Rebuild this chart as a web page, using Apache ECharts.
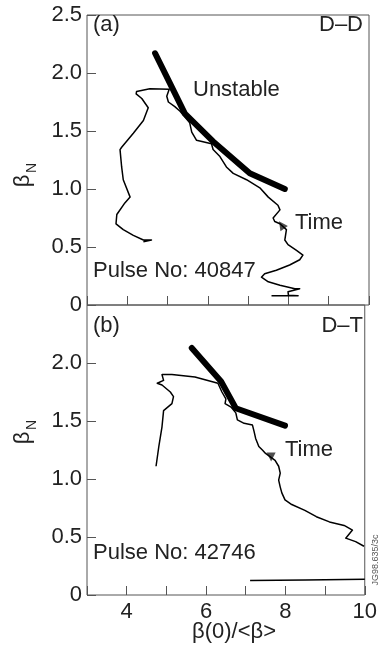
<!DOCTYPE html>
<html>
<head>
<meta charset="utf-8">
<style>
  html, body { margin: 0; padding: 0; background: #fff; }
  #chart { width: 380px; height: 646px; }
</style>
<script src="https://cdn.jsdelivr.net/npm/echarts/dist/echarts.min.js"></script>
</head>
<body>
<div id="chart"></div>
<script>
// Peaking factor beta(0)/<beta> against normalised beta, two JET pulses

// (a) D–D, pulse 40847: measured trajectory
const trajA = [
  [7.58, 0.08], [8.24, 0.08], [8.00, 0.085], [7.99, 0.115], [8.28, 0.14], [8.16, 0.14],
  [7.79, 0.17], [7.50, 0.20], [7.33, 0.24], [7.41, 0.27], [7.70, 0.30], [8.03, 0.345],
  [8.28, 0.39], [8.36, 0.43], [8.20, 0.47], [7.99, 0.52], [7.91, 0.56], [7.95, 0.65],
  [7.79, 0.70], [7.66, 0.72], [7.62, 0.75], [7.79, 0.82], [7.74, 0.86], [7.50, 0.93],
  [7.29, 1.01], [6.96, 1.08], [6.63, 1.135], [6.46, 1.19], [6.30, 1.28], [6.13, 1.34],
  [6.09, 1.39], [5.72, 1.42], [5.60, 1.49], [5.55, 1.57], [5.31, 1.67], [5.18, 1.71],
  [5.02, 1.75], [4.98, 1.80], [5.04, 1.86], [4.56, 1.865], [4.23, 1.84], [4.22, 1.82],
  [4.36, 1.78], [4.52, 1.70], [4.40, 1.59], [4.15, 1.48], [3.86, 1.36], [3.82, 1.34],
  [3.86, 1.19], [3.90, 1.08], [4.07, 0.93], [3.94, 0.88], [3.74, 0.78], [3.72, 0.70],
  [3.90, 0.65], [4.15, 0.60], [4.40, 0.56], [4.60, 0.56], [4.40, 0.545]
];
// (a) stability limit
const limitA = [[4.69, 2.17], [5.06, 1.91], [5.43, 1.65], [6.13, 1.41], [7.04, 1.135], [7.91, 1.00]];
// (a) time-direction arrow
const arrowA = [[7.83, 0.69]];

// (b) D–T, pulse 42746: measured trajectory
const trajB = [
  [4.74, 1.11], [4.81, 1.28], [4.89, 1.45], [4.93, 1.59], [5.14, 1.65], [5.18, 1.71],
  [5.10, 1.75], [4.89, 1.81], [4.77, 1.825], [4.93, 1.85], [4.89, 1.90], [5.14, 1.90],
  [5.72, 1.88], [6.30, 1.825], [6.40, 1.75], [6.50, 1.69], [6.48, 1.65], [6.63, 1.62],
  [6.75, 1.57], [6.79, 1.51], [6.96, 1.48], [7.17, 1.465], [7.21, 1.41], [7.25, 1.35],
  [7.33, 1.28], [7.42, 1.25], [7.50, 1.22], [7.54, 1.22], [7.74, 1.16], [7.83, 1.11],
  [7.87, 1.05], [7.83, 0.99], [7.87, 0.93], [7.91, 0.88], [7.99, 0.82], [8.16, 0.78],
  [8.49, 0.73], [8.78, 0.675], [9.11, 0.63], [9.48, 0.60], [9.69, 0.56], [9.52, 0.49],
  [9.77, 0.46], [9.98, 0.42]
];
// (b) low-beta phase along the bottom
const baseB = [[7.11, 0.125], [8.5, 0.13], [10.0, 0.135]];
// (b) stability limit
const limitB = [[5.64, 2.13], [6.38, 1.84], [6.75, 1.61], [7.99, 1.46]];
// (b) time-direction arrow
const arrowB = [[7.64, 1.19]];

const xTicks = { min: 3, max: 10, interval: 1 };
const yTicks = { min: 0, max: 2.5, interval: 0.5 };
const xLabelValues = [4, 6, 8, 10];

const FONT = 'Liberation Sans, Arial, Helvetica, sans-serif';
const INK = '#222';
const FRAME = '#555';
const FS = 22;

const chart = echarts.init(document.getElementById('chart'));

function xAxis(gridIndex, showLabels) {
  return {
    type: 'value', gridIndex, min: xTicks.min, max: xTicks.max, interval: xTicks.interval,
    axisLine: { show: false },
    axisTick: { show: true, inside: true, length: 9, lineStyle: { color: FRAME, width: 1 } },
    axisLabel: {
      show: showLabels, margin: 6, color: INK, fontSize: FS, fontFamily: FONT,
      formatter: v => xLabelValues.includes(v) ? String(v) : ''
    },
    splitLine: { show: false }
  };
}
function yAxis(gridIndex, hideTop) {
  return {
    type: 'value', gridIndex, min: yTicks.min, max: yTicks.max, interval: yTicks.interval,
    axisLine: { show: false },
    axisTick: { show: true, inside: true, length: 9, lineStyle: { color: FRAME, width: 1 } },
    axisLabel: {
      margin: 5, color: INK, fontSize: FS, fontFamily: FONT,
      formatter: v => (hideTop && v === yTicks.max) ? '' : (v === 0 ? '0' : v.toFixed(1))
    },
    splitLine: { show: false }
  };
}
function thin(i, data) {
  return {
    type: 'line', xAxisIndex: i, yAxisIndex: i, data, symbol: 'none', silent: true,
    lineStyle: { color: '#000', width: 1.5, join: 'round' }
  };
}
function thick(i, data) {
  return {
    type: 'line', xAxisIndex: i, yAxisIndex: i, data, symbol: 'none', silent: true,
    lineStyle: { color: '#000', width: 6, cap: 'round', join: 'round' }
  };
}
function arrow(i, data, rot) {
  return {
    type: 'scatter', xAxisIndex: i, yAxisIndex: i, data, symbol: 'triangle',
    symbolSize: [9, 9], symbolRotate: rot, silent: true, itemStyle: { color: '#222' }
  };
}
function text(str, x, y, align, extra) {
  return Object.assign({
    type: 'text', x, y, silent: true,
    style: { text: str, fill: INK, font: FS + 'px ' + FONT, textAlign: align, textVerticalAlign: 'middle' }
  }, extra || {});
}
function sub(str, x, y) {
  return {
    type: 'text', x, y, rotation: Math.PI / 2, silent: true,
    style: { text: str, fill: INK, font: '14px ' + FONT, textAlign: 'center', textVerticalAlign: 'middle' }
  };
}

chart.setOption({
  animation: false,
  grid: [
    { left: 87, top: 15, width: 282, height: 290, show: true, borderColor: FRAME, borderWidth: 1 },
    { left: 87, top: 305, width: 282, height: 290, show: true, borderColor: FRAME, borderWidth: 1 }
  ],
  xAxis: [xAxis(0, false), xAxis(1, true)],
  yAxis: [yAxis(0, false), yAxis(1, true)],
  series: [
    thin(0, trajA), thick(0, limitA), arrow(0, arrowA, 35),
    thin(1, trajB), thin(1, baseB), thick(1, limitB), arrow(1, arrowB, 180)
  ],
  graphic: [
    text('(a)', 93, 25, 'left'),
    text('D–D', 363, 25, 'right'),
    text('Unstable', 193, 90, 'left'),
    text('Time', 295, 223, 'left'),
    text('Pulse No: 40847', 93, 271, 'left'),
    text('(b)', 93, 326, 'left'),
    text('D–T', 363, 326, 'right'),
    text('Time', 285, 450, 'left'),
    text('Pulse No: 42746', 93, 553, 'left'),
    text('β(0)/<β>', 234, 632, 'center'),
    text('β', 23, 181, 'center', { rotation: Math.PI / 2 }),
    sub('N', 32, 168),
    text('β', 23, 438, 'center', { rotation: Math.PI / 2 }),
    sub('N', 32, 425),
    { type: 'text', x: 376, y: 560, rotation: Math.PI / 2, silent: true,
      style: { text: 'JG98.635/3c', fill: '#555', font: '9px ' + FONT, textAlign: 'center', textVerticalAlign: 'middle' } }
  ]
});
</script>
</body>
</html>
